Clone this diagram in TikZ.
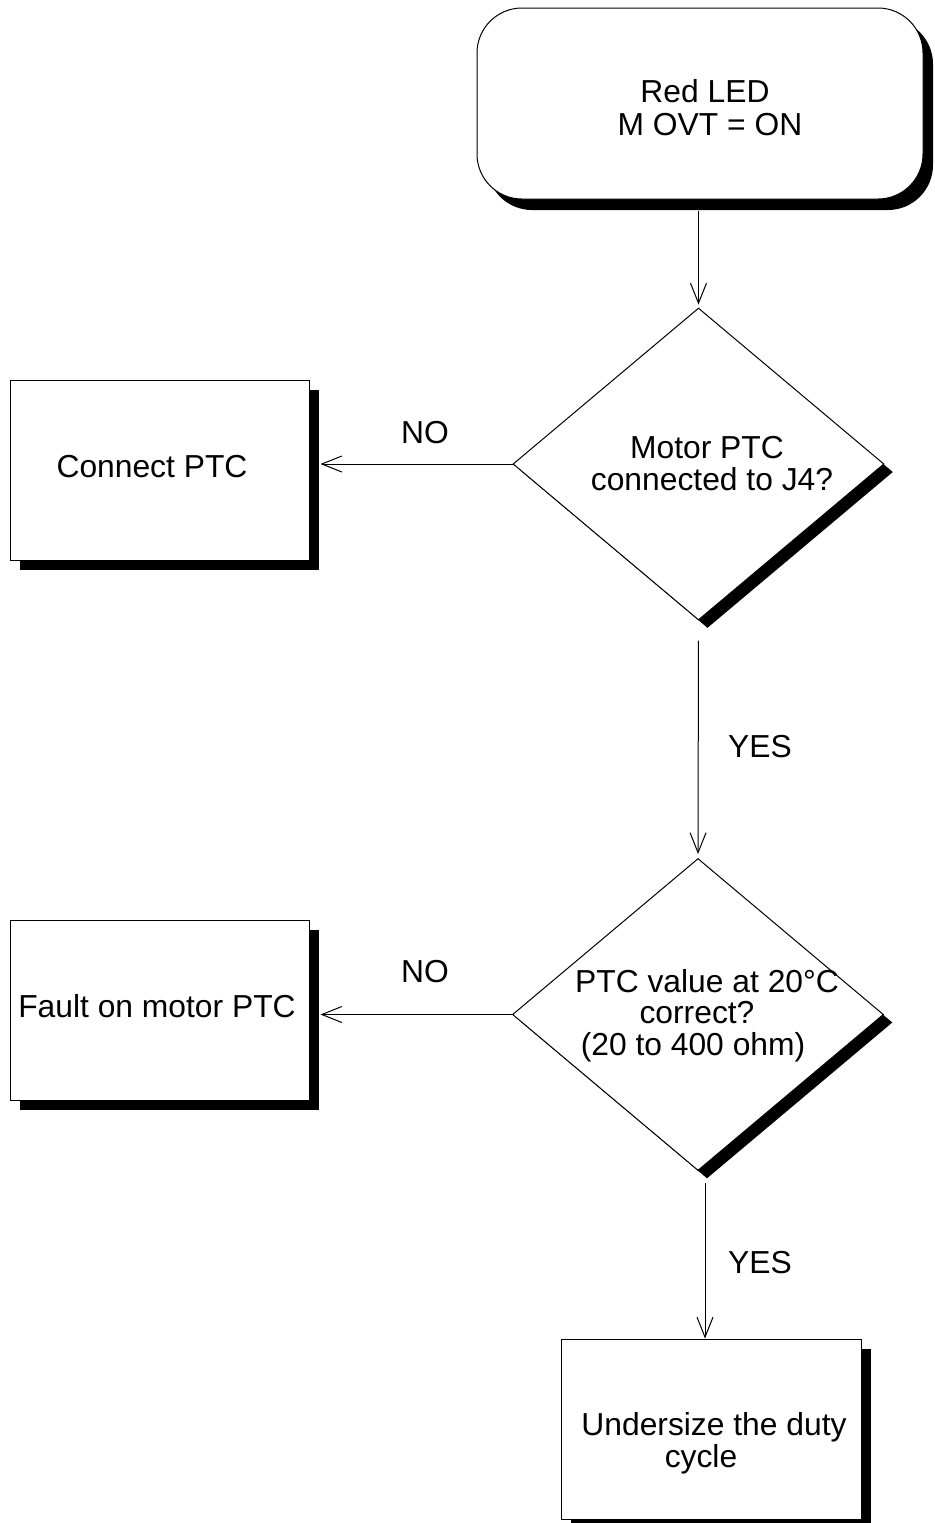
\documentclass[tikz,border=0pt]{standalone}
\usepackage{fontspec}
\setmainfont{Liberation Sans}
\usetikzlibrary{shapes.geometric,shadows,arrows.meta}
\begin{document}
\begin{tikzpicture}[x=0.5pt,y=-0.5pt,
  every node/.style={font=\fontsize{15.9pt}{18pt}\selectfont},
  shadowed/.style={drop shadow={shadow xshift=5pt,shadow yshift=-5pt,fill=black,opacity=1}},
  procbox/.style={draw=black,line width=0.5pt,fill=white,rectangle,inner sep=0pt,
    minimum width=149.5pt,minimum height=90pt,shadowed},
  startbox/.style={draw=black,line width=0.5pt,fill=white,rectangle,rounded corners=22.5pt,inner sep=0pt,
    minimum width=223pt,minimum height=95.5pt,
    drop shadow={shadow xshift=5pt,shadow yshift=-5.5pt,fill=black,opacity=1}},
  decision/.style={draw=black,line width=0.5pt,fill=white,diamond,inner sep=0pt,
    minimum width=185.5pt,minimum height=156pt,
    drop shadow={shadow xshift=4.5pt,shadow yshift=-4pt,fill=black,opacity=1}},
  txt/.style={anchor=base,inner sep=0pt},
  arr/.style={line width=0.5pt,-{Straight Barb[length=10pt,width=8pt,line width=0.5pt]}}
]
\useasboundingbox (0,0) rectangle (934,1523);

% shapes
\node[startbox] (top) at (700,103.5) {};
\node[decision] (d1) at (698.5,464) {};
\node[procbox] (c1) at (159.5,470) {};
\node[decision] (d2) at (698,1014.5) {};
\node[procbox] (c2) at (159.5,1010) {};
\node[procbox,minimum width=150pt] (u) at (711,1429) {};

% texts
\node[txt] (t1) at (705,102) {Red LED};
\node[txt] (t2) at (710,135) {M OVT = ON};
\node[txt] (t3) at (707,458) {Motor PTC};
\node[txt] (t4) at (712,490) {connected to J4?};
\node[txt] (t5) at (152,477) {Connect PTC};
\node[txt] (t6) at (707,992) {PTC value at 20°C};
\node[txt] (t7) at (697,1023) {correct?};
\node[txt] (t8) at (693,1055) {(20 to 400 ohm)};
\node[txt] (t9) at (157,1017) {Fault on motor PTC};
\node[txt] (t10) at (714,1435) {Undersize the duty};
\node[txt] (t11) at (701,1467) {cycle};

% labels
\node[txt] (no1) at (425,443) {NO};
\node[txt] (yes1) at (760,757) {YES};
\node[txt] (no2) at (425,982) {NO};
\node[txt] (yes2) at (760,1273) {YES};

% connectors
\draw[arr,shorten <=5.5pt,shorten >=1.5pt] (top.south -| d1.north) -- (d1.north);
\draw[arr,shorten >=5.5pt] (d1.west) -- (d1.west -| c1.east);
\draw[arr,shorten <=10pt,shorten >=2pt] (d1.south) -- (d2.north);
\draw[arr,shorten >=5.5pt] (d2.west) -- (d2.west -| c2.east);
\coordinate (y2) at (705,1183);
\draw[arr] (y2) -- (y2 |- u.north);
\end{tikzpicture}
\end{document}
